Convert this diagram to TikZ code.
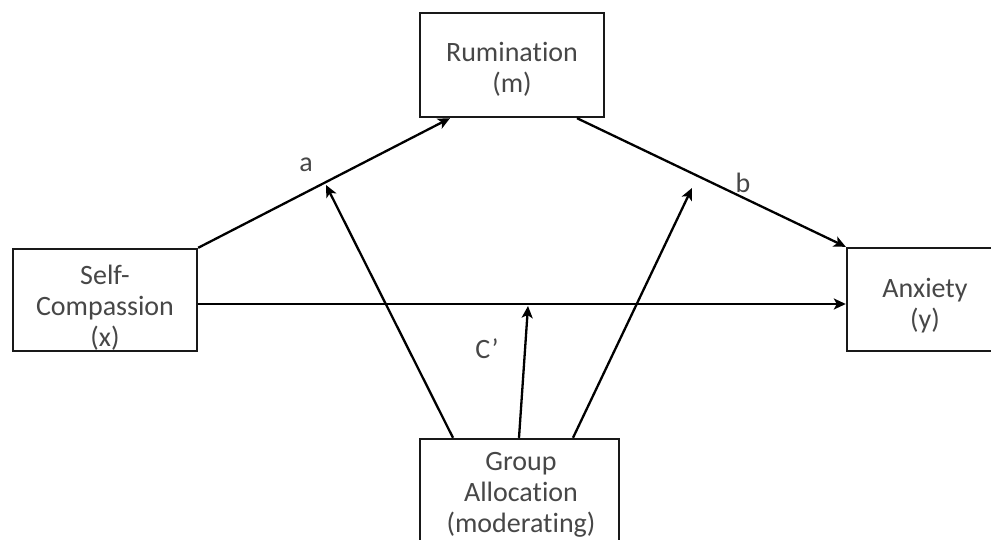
\documentclass[tikz,border=0pt]{standalone}
\usepackage{fontspec}
\setmainfont{Carlito}[Ligatures=NoCommon]
\usetikzlibrary{arrows.meta,calc}

\begin{document}
\begin{tikzpicture}[x=1pt,y=-1pt,
  box/.style={draw=black!90, line width=2.4pt, fill=white, inner sep=0pt},
  txt/.style={align=center, text=black!72, font=\fontsize{28}{31}\selectfont},
  conn/.style={draw=black, line width=2.3pt, -{Stealth[length=12pt,width=11pt,inset=3pt]}},
  plain/.style={draw=black, line width=2.3pt}
]
  % frame of the figure
  \path[use as bounding box] (0,0) rectangle (991,540);
  \clip (0,0) rectangle (991,540);

  % variable boxes
  \node[box, minimum width=184pt, minimum height=104pt] (rum) at (512,65) {};
  \node[box, minimum width=184pt, minimum height=102pt] (sc)  at (105,300) {};
  \node[box, minimum width=170pt, minimum height=103pt] (anx) at (932,299.5) {};
  \node[box, minimum width=199pt, minimum height=112pt] (grp) at (519.5,495) {};

  % box texts
  \node[txt] (rumtext) at (512,69)  {Rumination\\(m)};
  \node[txt] (sctext)  at (105,308) {Self-\\Compassion\\(x)};
  \node[txt] (anxtext) at (925,306) {Anxiety\\(y)};
  \node[txt] (grptext) at (521,495) {Group\\Allocation\\(moderating)};

  % path end points
  \coordinate (ta) at (326,185);
  \coordinate (tc) at (528,306);
  \coordinate (tb) at (692,188);

  % mediation paths
  \draw[conn] (sc.north east) -- (450,0 |- rum.south);
  \draw[conn] (577,0 |- rum.south) -- (anx.north west);
  \draw[conn] (sc.east |- 0,304) -- (anx.west |- 0,304);

  % moderation paths
  \draw[conn] (453,0 |- grp.north) -- (ta);
  \draw[conn] (519,0 |- grp.north) -- (tc);
  \draw[conn] (573,0 |- grp.north) -- (tb);

  % path labels
  \node[txt] (la) at (306,165) {a};
  \node[txt] (lb) at (743,183) {b};
  \node[txt] (lc) at (487,349) {C’};
\end{tikzpicture}
\end{document}
